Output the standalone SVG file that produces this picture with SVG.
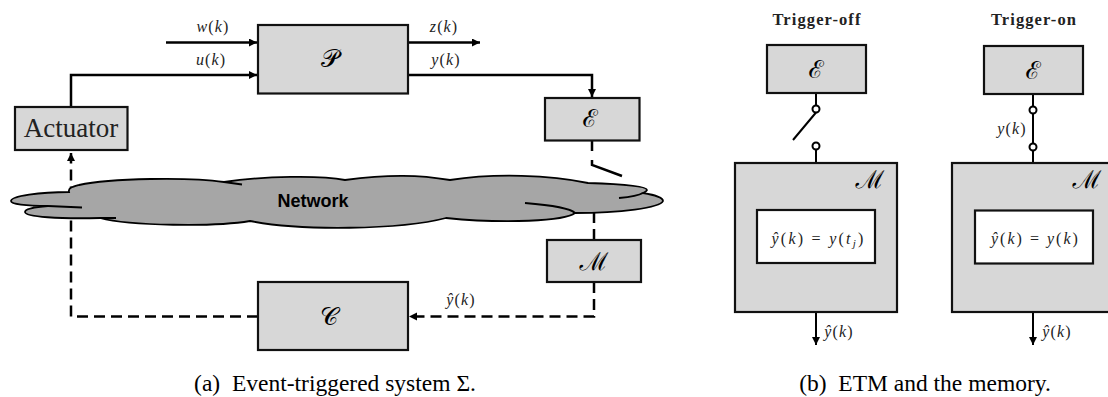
<svg xmlns="http://www.w3.org/2000/svg" width="1108" height="397" viewBox="0 0 1108 397">
<style>
.b{fill:#d7d7d7;stroke:#111;stroke-width:2.2}
.w{fill:#fff;stroke:#111;stroke-width:2.2}
.c{fill:none;stroke:#000;stroke-width:2.5}
.d{fill:none;stroke:#000;stroke-width:2.500;stroke-dasharray:11 6}
.t{fill:none;stroke:#000;stroke-width:2}
.o{fill:#fff;stroke:#000;stroke-width:2}
text{font-family:"Liberation Serif",serif;fill:#222}
.m{font-size:16px;letter-spacing:1.100px;text-anchor:middle}
.i{font-style:italic}
.s{font-size:25px;font-family:"DejaVu Serif","Noto Sans",serif;text-anchor:middle;fill:#000}
.cap{font-size:23.500px;text-anchor:middle;fill:#000}
.h{font-size:16.500px;font-weight:bold;letter-spacing:1.100px;text-anchor:middle}
</style>
<defs>
<marker id="a" markerUnits="userSpaceOnUse" markerWidth="10" markerHeight="10" refX="8" refY="4" orient="auto"><path d="M0 0L8 4L0 8Z" fill="#000"/></marker>
</defs>
<g id="connectors">
<path class="c" d="M166 42.500H257" marker-end="url(#a)"/>
<path class="c" d="M71 107V75H257" marker-end="url(#a)"/>
<path class="c" d="M408 42.500H480" marker-end="url(#a)"/>
<path class="c" d="M408 75H592V97" marker-end="url(#a)"/>
<path class="d" d="M71 316.500V153" marker-end="url(#a)"/>
<path class="d" d="M258 316.500H71"/>
<path class="d" d="M594 282V316.500H409" marker-end="url(#a)"/>
<path class="d" d="M594 240V206"/>
<path class="c" d="M592 141V151M592 160V165L622 176"/>
<path class="t" d="M816 93V105.500M816 112.500L793 140M816 149.500V163"/>
<path class="t" d="M1033 94V163"/>
<path class="t" d="M816 312V345" marker-end="url(#a)"/>
<path class="t" d="M1033 312V345" marker-end="url(#a)"/>
</g>
<g id="network">
<path d="M69 192C68 188 72 187 79 185C110 178 190 177 224 182C265 176 320 175 345 180C390 174 420 175 450 180C495 173 550 175 588 183C620 184 647 186 647 190C647 191 645 192 643 193C655 195 663 198 663 201C660 208 620 213 575 213C565 221 505 224 446 218C400 230 300 231 250 221C215 227 130 226 100 218C60 219 25 217 25 212C25 209 35 207 48 206C25 206 11 204 11 201C11 196 40 192 69 192Z" fill="#a6a6a6" stroke="#000" stroke-width="1.800"/>
<path d="M224 182L242 184.500M48 206L82 207.500M100 218L116 218M525 203C550 205 570 208 575 213M643 193C638 196 630 197 619 198" fill="none" stroke="#000" stroke-width="1.800"/>
<text x="313" y="207" font-size="18" font-weight="bold" text-anchor="middle" style="font-family:'Liberation Sans',sans-serif;fill:#000">Network</text>
</g>
<g id="plant"><rect class="b" x="258" y="25" width="150" height="68.500"/><text class="s" x="330" y="67">𝒫</text></g>
<g id="actuator"><rect class="b" x="15" y="107" width="112.500" height="43"/><text x="71" y="137" font-size="27" text-anchor="middle">Actuator</text></g>
<g id="etm-a"><rect class="b" x="545" y="98" width="94.500" height="42.500"/><text class="s" x="590" y="127">ℰ</text></g>
<g id="memory-a"><rect class="b" x="547" y="240" width="94" height="42"/><text class="s" x="594" y="270">ℳ</text></g>
<g id="controller"><rect class="b" x="258" y="282" width="150" height="68"/><text class="s" x="329" y="325">𝒞</text></g>
<g id="etm-off"><rect class="b" x="767" y="45" width="99" height="48"/><text class="s" x="816" y="78">ℰ</text></g>
<g id="etm-on"><rect class="b" x="984" y="46" width="99" height="48"/><text class="s" x="1033" y="79">ℰ</text></g>
<g id="memory-off"><rect class="b" x="735" y="163" width="162" height="149"/><text class="s" x="870" y="188">ℳ</text><rect class="w" x="757" y="210" width="118" height="53"/><text class="m" x="818" y="244" textLength="93"><tspan class="i">ŷ</tspan>(<tspan class="i">k</tspan>) = <tspan class="i">y</tspan>(<tspan class="i">t</tspan><tspan class="i" font-size="11" dy="3">j</tspan><tspan dy="-3">)</tspan></text></g>
<g id="memory-on"><rect class="b" x="952" y="163" width="162" height="149"/><text class="s" x="1087" y="188">ℳ</text><rect class="w" x="975" y="210.500" width="118" height="53"/><text class="m" x="1035" y="244" textLength="88"><tspan class="i">ŷ</tspan>(<tspan class="i">k</tspan>) = <tspan class="i">y</tspan>(<tspan class="i">k</tspan>)</text></g>
<g id="switch-off"><circle class="o" cx="816" cy="109" r="3.500"/><circle class="o" cx="816" cy="146" r="3.500"/></g>
<g id="switch-on"><circle class="o" cx="1033" cy="110" r="3.500"/><circle class="o" cx="1033" cy="147" r="3.500"/></g>
<g id="labels">
<text class="m" x="213" y="32"><tspan class="i">w</tspan>(<tspan class="i">k</tspan>)</text>
<text class="m" x="211" y="65"><tspan class="i">u</tspan>(<tspan class="i">k</tspan>)</text>
<text class="m" x="444" y="32"><tspan class="i">z</tspan>(<tspan class="i">k</tspan>)</text>
<text class="m" x="446" y="65"><tspan class="i">y</tspan>(<tspan class="i">k</tspan>)</text>
<text class="m" x="461" y="305"><tspan class="i">ŷ</tspan>(<tspan class="i">k</tspan>)</text>
<text class="m" x="1012" y="134"><tspan class="i">y</tspan>(<tspan class="i">k</tspan>)</text>
<text class="m" x="839" y="337"><tspan class="i">ŷ</tspan>(<tspan class="i">k</tspan>)</text>
<text class="m" x="1057" y="337"><tspan class="i">ŷ</tspan>(<tspan class="i">k</tspan>)</text>
<text class="h" x="817" y="25">Trigger-off</text>
<text class="h" x="1034" y="25">Trigger-on</text>
<text class="cap" x="335" y="391" xml:space="preserve">(a)  Event-triggered system Σ.</text>
<text class="cap" x="925" y="391" xml:space="preserve">(b)  ETM and the memory.</text>
</g>
</svg>
